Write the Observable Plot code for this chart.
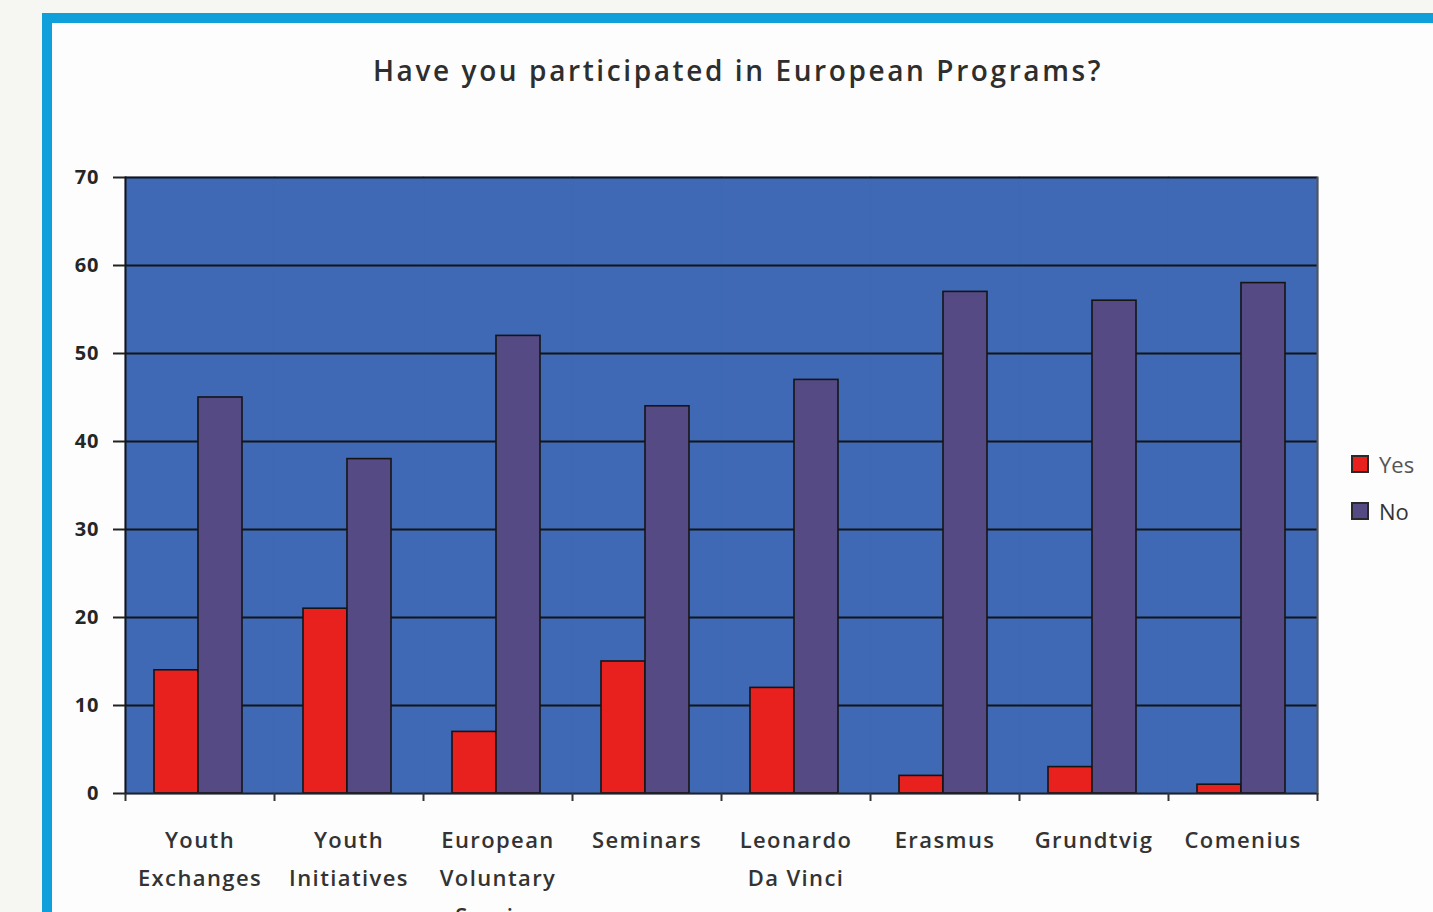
<!DOCTYPE html>
<html>
<head>
<meta charset="utf-8">
<script src="https://cdn.jsdelivr.net/npm/d3@7"></script>
<script src="https://cdn.jsdelivr.net/npm/@observablehq/plot@0.6"></script>
<style>
  html, body { margin: 0; padding: 0; width: 1433px; height: 912px; overflow: hidden; background: #f6f6f3; }
  #frame { position: absolute; left: 42px; top: 13px; width: 1500px; height: 1000px;
           border-left: 10px solid #0f9fdb; border-top: 10px solid #0f9fdb; background: #fdfdfd; }
  #title { position: absolute; left: 0; width: 1476px; top: 51px; text-align: center;
           font-family: "Open Sans", sans-serif; font-weight: 600; font-size: 28px; letter-spacing: 2.6px; color: #2e2e2e; }
  #chart { position: absolute; left: 0; top: 0; }
  #legend { position: absolute; left: 1351px; top: 450px; font-family: "Open Sans", sans-serif; font-size: 22px; }
  .item { display: flex; align-items: center; height: 28px; margin-bottom: 19px; }
  .sw { width: 14px; height: 14px; border: 2px solid #2a2a2a; margin-right: 10px; }
</style>
</head>
<body>
<div id="frame"></div>
<div id="title">Have you participated in European Programs?</div>
<div id="chart"></div>
<div id="legend"></div>
<script>
const categories = ["Youth Exchanges", "Youth Initiatives", "European Voluntary Service", "Seminars", "Leonardo Da Vinci", "Erasmus", "Grundtvig", "Comenius"];
const categoryLabels = ["Youth\nExchanges", "Youth\nInitiatives", "European\nVoluntary\nService", "Seminars", "Leonardo\nDa Vinci", "Erasmus", "Grundtvig", "Comenius"];
const seriesNames = ["Yes", "No"];
const yesValues = [14, 21, 7, 15, 12, 2, 3, 1];
const noValues = [45, 38, 52, 44, 47, 57, 56, 58];
const yTicks = [0, 10, 20, 30, 40, 50, 60, 70];
const seriesColors = ["#e8211f", "#564a84"];

const rows = [];
categories.forEach((c, i) => {
  rows.push({category: c, series: "Yes", value: yesValues[i]});
  rows.push({category: c, series: "No", value: noValues[i]});
});
const labelOf = Object.fromEntries(categories.map((c, i) => [c, categoryLabels[i]]));

const W = 1433, H = 960, mL = 125, mR = 116, mT = 177, mB = 167;
const step = (W - mL - mR) / categories.length;
const bg = "#3f68b5";

const chart = Plot.plot({
  width: W, height: H,
  marginLeft: mL, marginRight: mR, marginTop: mT, marginBottom: mB,
  style: {background: "transparent", fontFamily: "Open Sans, sans-serif", overflow: "visible"},
  fx: {domain: categories, padding: 0, axis: null, label: null},
  x: {domain: seriesNames, paddingInner: 0, paddingOuter: 0.66, align: 0.47, axis: null},
  y: {domain: [0, 70], axis: null},
  color: {domain: seriesNames, range: seriesColors},
  marks: [
    Plot.frame({fill: bg, stroke: bg, strokeWidth: 1.5}),
    Plot.ruleY(yTicks.slice(1), {stroke: "#151515", strokeWidth: 2.2}),
    Plot.barY(rows, {fx: "category", x: "series", y: "value", fill: "series", stroke: "#151515", strokeWidth: 1.6}),
    Plot.ruleY([0], {stroke: "#222", strokeWidth: 2}),
    Plot.frame({anchor: "left", facetAnchor: "left", stroke: "#151515", strokeWidth: 2}),
    Plot.frame({anchor: "right", facetAnchor: "right", stroke: "#555", strokeWidth: 2}),
    Plot.axisY({ticks: yTicks, tickSize: 12, tickPadding: 14, strokeWidth: 2, stroke: "#222",
      fontSize: 20, fontWeight: 700, fill: "#262626", label: null}),
    Plot.axisFx({anchor: "bottom", tickSize: 8, strokeWidth: 2, stroke: "#333", tickFormat: () => "", dx: -step / 2, label: null}),
    Plot.axisFx({anchor: "bottom", ticks: [categories[categories.length - 1]], tickSize: 8, strokeWidth: 2, stroke: "#333", tickFormat: () => "", dx: step / 2, label: null}),
    Plot.axisFx({anchor: "bottom", tickSize: 0, tickPadding: 28, tickFormat: d => labelOf[d],
      fontSize: 22, fontWeight: 600, fill: "#333", lineHeight: 1.72, lineWidth: Infinity, label: null})
  ]
});
d3.select(chart).selectAll("g[aria-label='fx-axis tick label'] text").style("letter-spacing", "1.4px");
d3.select(chart).selectAll("g[aria-label='y-axis tick label'] text").style("letter-spacing", "1px");
document.getElementById("chart").append(chart);

const legend = d3.select("#legend");
seriesNames.forEach((s, i) => {
  const it = legend.append("div").attr("class", "item");
  it.append("div").attr("class", "sw").style("background", seriesColors[i]);
  it.append("span").text(s).style("color", i === 0 ? "#555" : "#333");
});
</script>
</body>
</html>
